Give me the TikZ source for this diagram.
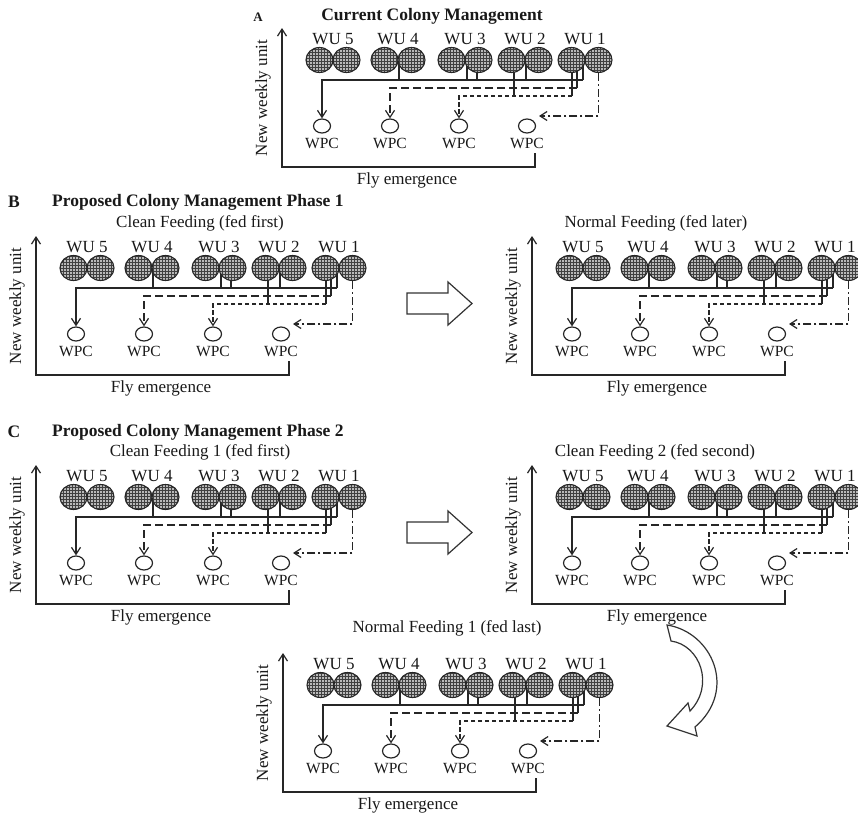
\documentclass[tikz,border=0pt]{standalone}
\usepackage{fontspec}
\setmainfont{Liberation Serif}
\usetikzlibrary{arrows.meta,patterns,shapes.geometric}
\newcommand\colpanel[3]{%
\begin{scope}[shift={(#2,#3)}]
  \coordinate (#1o) at (282,167);
  \coordinate (#1top) at (282,28);
  \coordinate (#1e) at (535,153);
  \coordinate (#1dt) at (539,116);
  \foreach \i/\x in {1/322,2/390,3/459,4/527} {
    \node[pupa] (#1p\i) at (\x,126) {};
    \node[wpclbl] (#1t\i) at (\x,143) {WPC};
  }
  \foreach \x/\yy in {399/80,467/80,477/80,526/80,583/80,577/88,572/96,514/96} {
    \coordinate (#1k\x) at (\x,\yy);
    \draw[ln] (\x,62) -- (#1k\x);
  }
  \draw[ln,arr] (#1k583) -| (#1p1.north);
  \draw[ln,longdash,arr] (#1k577) -| (#1p2.north);
  \draw[ln,shortdash,arr] (#1k572) -| (#1p3.north);
  \foreach \i/\x in {1/319.5,2/346.5,3/384.5,4/411.5,5/451.5,6/478.5,7/511.5,8/538.5,9/571.5,10/598.5} {
    \node[cage] (#1c\i) at (\x,60) {};
  }
  \draw[ln,dashdotl,arr] (#1c10.south) |- (#1dt);
  \draw[ln,arr] (#1e) |- (#1o) -- (#1top);
  \foreach \j/\x in {5/333,4/398,3/465,2/525,1/585} {
    \node[lbl] (#1w\j) at (\x,39) {WU \j};
  }
  \node[lbl,rotate=90] (#1y) at (263,98) {New weekly unit};
  \node[lbl] (#1x) at (407,180) {Fly emergence};
\end{scope}}
\begin{document}
\begin{tikzpicture}[x=1pt,y=-1pt,
  ln/.style={line width=1.5pt, draw=black!85},
  cage/.style={ellipse, draw=black!85, line width=1.1pt, minimum width=27pt, minimum height=25pt, inner sep=0pt, preaction={fill=gray!55}, pattern=grid, pattern color=black!75},
  pupa/.style={ellipse, draw=black!85, line width=1.2pt, minimum width=17pt, minimum height=14pt, inner sep=0pt, fill=white},
  lbl/.style={font=\fontsize{17}{20}\selectfont, inner sep=0pt, text=black!90},
  wpclbl/.style={font=\fontsize{15.5}{18}\selectfont, inner sep=0pt, text=black!90},
  ttl/.style={font=\fontsize{17.5}{20}\selectfont\bfseries, inner sep=0pt, text=black!90},
  arr/.style={-{Straight Barb[length=7pt,width=9pt,line width=1.2pt]}},
  longdash/.style={dash pattern=on 8pt off 4pt},
  shortdash/.style={dash pattern=on 4.5pt off 2.5pt},
  dashdotl/.style={dash pattern=on 8pt off 3pt on 2pt off 3pt},
  barrow/.style={line width=1.2pt, draw=black!80, fill=white},
]
\useasboundingbox (0,0) rectangle (858,814);
\fill[white] (0,0) rectangle (858,814);

\colpanel{A}{0}{0}
\colpanel{BL}{-246}{208}
\colpanel{BR}{250}{208}
\colpanel{CL}{-246}{437}
\colpanel{CR}{250}{437}
\colpanel{D}{1}{625}

% headers
\node[ttl,font=\fontsize{13}{15}\selectfont\bfseries] (hA) at (258,17) {A};
\node[ttl] (tA) at (432,16) {Current Colony Management};
\node[ttl] (hB) at (14,202) {B};
\node[ttl,anchor=west] (tB) at (52,202) {Proposed Colony Management Phase 1};
\node[lbl] (sBL) at (200,223) {Clean Feeding (fed first)};
\node[lbl] (sBR) at (656,223) {Normal Feeding (fed later)};
\node[ttl] (hC) at (14,432) {C};
\node[ttl,anchor=west] (tC) at (52,432) {Proposed Colony Management Phase 2};
\node[lbl] (sCL) at (200,452) {Clean Feeding 1 (fed first)};
\node[lbl] (sCR) at (655,452) {Clean Feeding 2 (fed second)};
\node[lbl] (sD) at (447,628) {Normal Feeding 1 (fed last)};

% block arrows
\draw[barrow] (407,293) -- (448,293) -- (448,282) -- (472,303.5) -- (448,325) -- (448,314) -- (407,314) -- cycle;
\draw[barrow] (407,522) -- (448,522) -- (448,511) -- (472,532.5) -- (448,554) -- (448,543) -- (407,543) -- cycle;

% curved arrow
\draw[barrow] (667,625) .. controls (712,632) and (738,690) .. (695,727)
  -- (697,736) -- (667,726) -- (688,703) -- (690,711)
  .. controls (715,685) and (700,645) .. (671,641) -- cycle;
\end{tikzpicture}
\end{document}
